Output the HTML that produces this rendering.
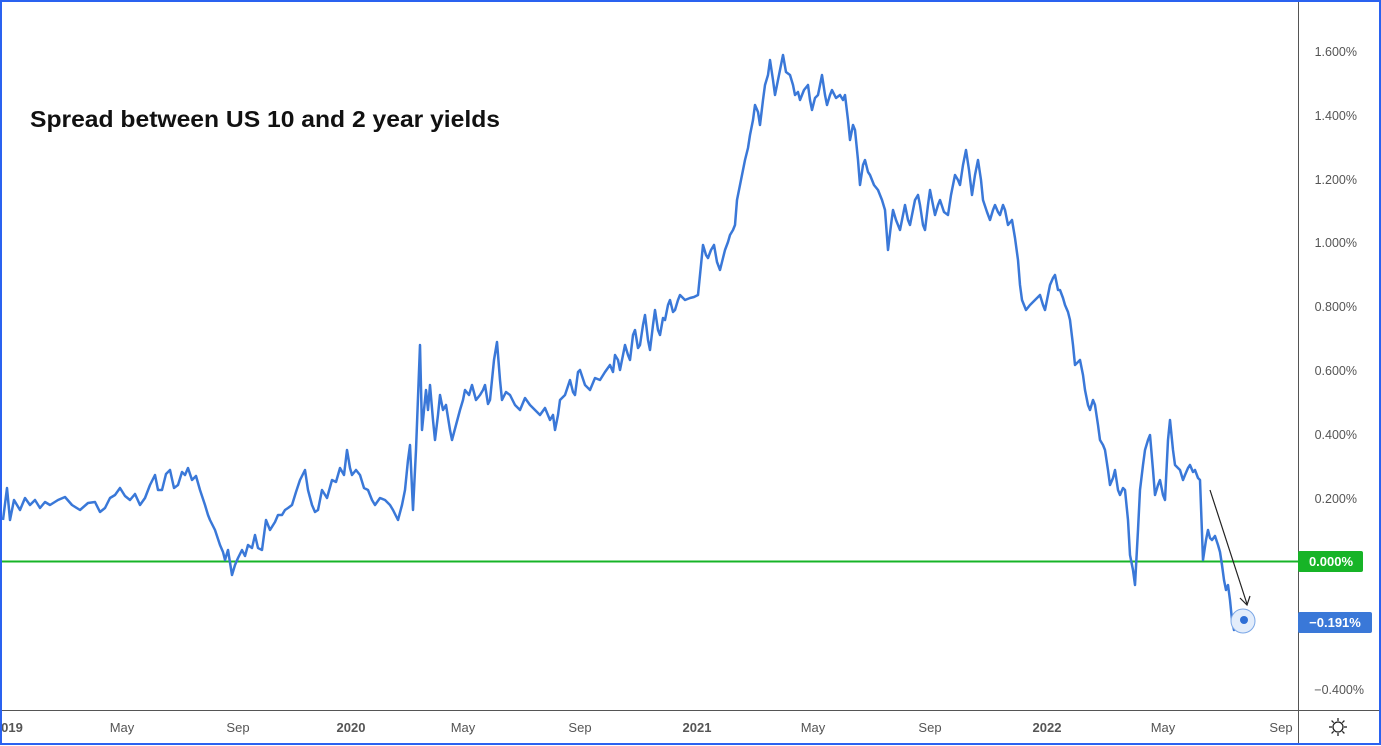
<!DOCTYPE html>
<html><head><meta charset="utf-8"><style>
html,body{margin:0;padding:0;background:#fff}
svg{display:block}
text{font-family:"Liberation Sans",sans-serif}
</style></head><body>
<svg width="1381" height="746" viewBox="0 0 1381 746">
<rect x="0" y="0" width="1381" height="746" fill="#fff"/>
<line x1="1298.5" y1="0" x2="1298.5" y2="744" stroke="#555" stroke-width="1"/>
<line x1="0" y1="710.5" x2="1381" y2="710.5" stroke="#555" stroke-width="1"/>
<line x1="2" y1="561.5" x2="1298" y2="561.5" stroke="#17b427" stroke-width="2"/>
<polyline fill="none" stroke="#3a78d8" stroke-width="2.5" stroke-linejoin="round" points="3,520 7,488 10,520 14,500 20,510 25,498 30,505 35,500 40,508 45,502 50,505 58,500 65,497 72,505 80,510 88,503 95,502 100,512 105,508 110,498 115,495 120,488 125,496 130,500 135,494 140,505 145,498 150,485 155,475 158,490 162,490 166,474 170,470 174,488 178,485 182,472 185,475 188,468 192,480 196,476 200,490 205,505 208,515 210,520 215,530 220,545 223,552 225,560 228,550 232,575 235,565 238,558 242,550 245,556 248,545 252,548 255,535 258,548 262,550 266,520 270,530 275,522 278,515 282,515 285,510 288,508 292,505 296,492 300,480 305,470 308,490 312,505 315,512 318,510 322,490 327,498 332,480 336,482 340,468 344,475 347,450 350,468 352,475 356,470 360,475 364,488 368,490 372,500 375,505 380,498 385,500 390,505 393,510 398,520 402,505 405,490 408,460 410,445 413,510 416,450 420,345 422,430 426,390 428,410 430,385 433,420 435,440 438,415 440,395 443,410 446,405 450,430 452,440 456,425 460,410 463,400 465,390 469,395 472,385 476,400 480,395 483,390 485,385 488,404 490,400 494,360 497,342 500,380 502,400 506,392 510,395 515,405 520,410 525,398 530,405 535,410 540,415 545,408 550,420 553,415 555,430 558,415 560,400 565,395 570,380 573,392 575,395 578,372 580,370 585,385 590,390 595,378 600,380 605,372 610,365 613,372 615,355 618,360 620,370 623,355 625,345 628,355 630,360 633,335 635,330 638,348 640,345 643,325 645,315 648,340 650,350 653,325 655,310 658,330 660,335 663,318 665,320 668,305 670,300 673,312 675,310 678,300 680,295 685,300 690,298 694,297 698,295 701,265 703,245 706,255 708,258 711,250 714,245 717,262 720,270 723,258 725,250 728,242 730,235 733,230 735,225 737,200 740,185 743,170 745,160 748,148 750,135 753,120 755,105 758,112 760,125 763,100 765,85 768,75 770,60 773,80 775,95 778,80 780,70 783,55 786,72 790,75 793,85 795,95 798,92 800,100 804,90 808,85 810,100 812,110 815,98 818,95 820,85 822,75 825,95 827,105 830,95 832,90 836,98 840,95 843,100 845,95 848,120 850,140 853,125 855,130 858,160 860,185 863,165 865,160 868,172 870,175 874,185 878,190 882,200 885,210 888,250 891,225 893,210 896,220 900,230 903,215 905,205 908,220 910,225 913,210 915,200 918,195 920,205 923,225 925,230 928,205 930,190 933,205 935,215 938,205 940,200 944,212 948,215 951,195 955,175 958,180 960,185 963,165 966,150 969,170 972,195 975,175 978,160 981,180 983,200 987,212 990,220 993,210 995,205 998,212 1000,215 1003,205 1005,210 1008,225 1012,220 1015,238 1018,260 1020,285 1022,300 1026,310 1030,305 1035,300 1040,295 1043,305 1045,310 1048,295 1050,285 1053,278 1055,275 1058,290 1060,290 1063,298 1065,305 1068,312 1070,320 1073,345 1075,365 1078,362 1080,360 1083,375 1085,390 1088,405 1090,410 1093,400 1095,405 1098,425 1100,440 1103,445 1105,450 1108,470 1110,485 1113,478 1115,470 1118,490 1120,495 1123,488 1125,490 1128,520 1130,555 1133,570 1135,585 1138,530 1140,490 1143,465 1145,450 1148,440 1150,435 1153,470 1155,495 1158,485 1160,480 1163,495 1165,500 1168,440 1170,420 1173,450 1175,465 1178,468 1180,470 1183,480 1185,475 1188,468 1190,465 1193,472 1195,470 1198,478 1200,480 1203,560 1206,540 1208,530 1210,538 1212,540 1215,536 1218,545 1220,552 1222,565 1224,580 1226,590 1228,585 1230,600 1232,620 1234,630 1236,622 1238,625 1241,620 1244,620"/>
<circle cx="1243" cy="621" r="12" fill="#e3edfb" stroke="#7aa6e6" stroke-width="1"/>
<circle cx="1244" cy="620" r="4" fill="#2f6fd6"/>
<line x1="1210" y1="490" x2="1247" y2="604" stroke="#222" stroke-width="1.2"/>
<polyline points="1240,598 1247,605 1250,596" fill="none" stroke="#222" stroke-width="1.2"/>
<text x="30" y="127" font-size="23" font-weight="bold" fill="#111" textLength="470" lengthAdjust="spacingAndGlyphs">Spread between US 10 and 2 year yields</text>
<g font-size="12.5" fill="#555" text-anchor="end">
<text x="1357" y="56">1.600%</text>
<text x="1357" y="120">1.400%</text>
<text x="1357" y="184">1.200%</text>
<text x="1357" y="247">1.000%</text>
<text x="1357" y="311">0.800%</text>
<text x="1357" y="375">0.600%</text>
<text x="1357" y="439">0.400%</text>
<text x="1357" y="503">0.200%</text>
<text x="1364" y="694">−0.400%</text>
</g>
<rect x="1298" y="551" width="65" height="21" rx="2" fill="#17b427"/>
<text x="1331" y="566" font-size="13" font-weight="bold" fill="#fff" text-anchor="middle">0.000%</text>
<rect x="1298" y="612" width="74" height="21" rx="2" fill="#3a78d8"/>
<text x="1335" y="627" font-size="13" font-weight="bold" fill="#fff" text-anchor="middle">−0.191%</text>
<g font-size="13" fill="#555" text-anchor="middle">
<text x="12" y="732" font-weight="bold">019</text>
<text x="122" y="732">May</text>
<text x="238" y="732">Sep</text>
<text x="351" y="732" font-weight="bold">2020</text>
<text x="463" y="732">May</text>
<text x="580" y="732">Sep</text>
<text x="697" y="732" font-weight="bold">2021</text>
<text x="813" y="732">May</text>
<text x="930" y="732">Sep</text>
<text x="1047" y="732" font-weight="bold">2022</text>
<text x="1163" y="732">May</text>
<text x="1281" y="732">Sep</text>
</g>
<g transform="translate(1338,727)" stroke="#222" stroke-width="1.3" fill="none">
<circle r="5"/>
<line x1="0" y1="-9" x2="0" y2="-6"/><line x1="0" y1="6" x2="0" y2="9"/>
<line x1="-9" y1="0" x2="-6" y2="0"/><line x1="6" y1="0" x2="9" y2="0"/>
<line x1="-6.4" y1="-6.4" x2="-4.3" y2="-4.3"/><line x1="4.3" y1="4.3" x2="6.4" y2="6.4"/>
<line x1="-6.4" y1="6.4" x2="-4.3" y2="4.3"/><line x1="4.3" y1="-4.3" x2="6.4" y2="-6.4"/>
</g>
<rect x="1" y="1" width="1379" height="743" fill="none" stroke="#2a62f0" stroke-width="2"/>
</svg>
</body></html>
